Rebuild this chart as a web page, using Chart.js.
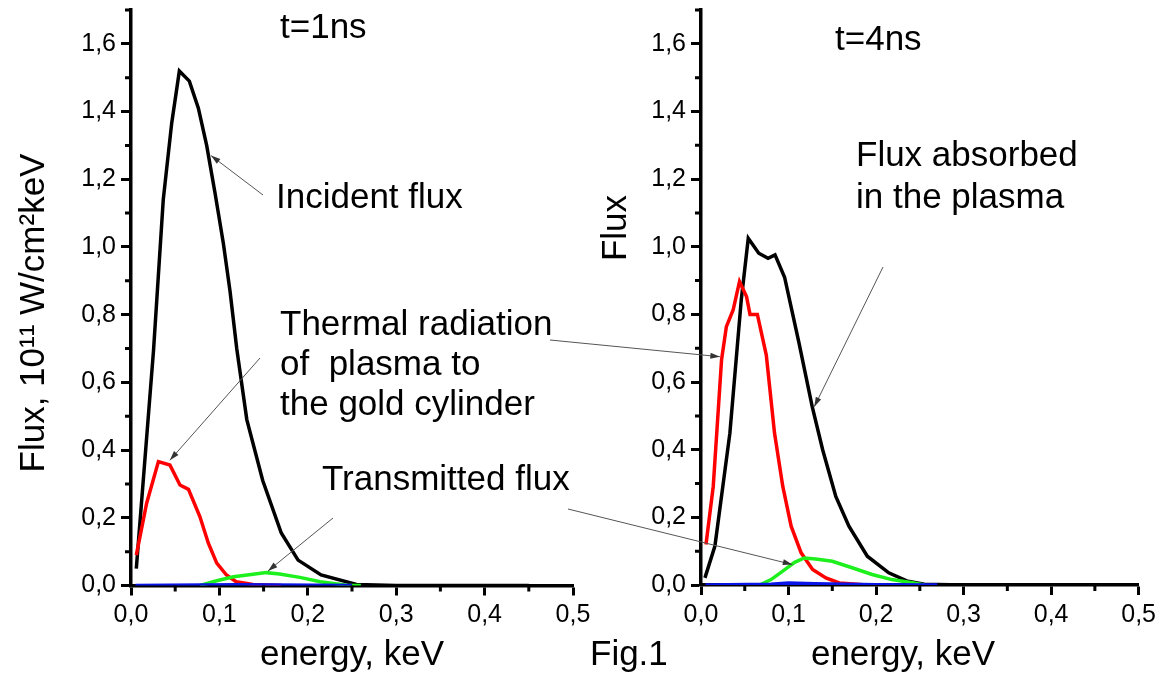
<!DOCTYPE html>
<html>
<head>
<meta charset="utf-8">
<script src="https://cdn.jsdelivr.net/npm/chart.js@4.4.1/dist/chart.umd.min.js"></script>
<style>
  body { margin: 0; background: #fff; }
  #wrap { position: relative; width: 1161px; height: 680px; }
  #wrap canvas { position: absolute; left: 0; top: 0; }
</style>
</head>
<body>
<div id="wrap">
  <canvas id="left" width="1161" height="680"></canvas>
  <canvas id="right" width="1161" height="680"></canvas>
  <canvas id="notes" width="1161" height="680"></canvas>
</div>
<script>
// t = 1 ns
const incident1E = [0.006, 0.0255, 0.0365, 0.046, 0.0547, 0.066, 0.0762, 0.0856, 0.095, 0.1045, 0.112, 0.1196, 0.131, 0.149, 0.170, 0.189, 0.215, 0.255, 0.30, 0.45];
const incident1F = [0.05, 0.695, 1.14, 1.365, 1.52, 1.49, 1.41, 1.30, 1.16, 1.01, 0.87, 0.70, 0.49, 0.31, 0.155, 0.075, 0.031, 0.003, 0.0, 0.0];
const thermal1E = [0.006, 0.0177, 0.031, 0.044, 0.0554, 0.065, 0.078, 0.0875, 0.097, 0.108, 0.119, 0.138, 0.17];
const thermal1F = [0.09, 0.243, 0.366, 0.356, 0.297, 0.284, 0.203, 0.125, 0.066, 0.031, 0.011, 0.003, 0.0];
const transmitted1E = [0.078, 0.097, 0.116, 0.138, 0.153, 0.168, 0.191, 0.214, 0.244, 0.26];
const transmitted1F = [0.0, 0.014, 0.026, 0.033, 0.038, 0.034, 0.024, 0.011, 0.001, 0.0];
const blue1E = [0.005, 0.12, 0.25];
const blue1F = [0.0, 0.002, 0.0];

// t = 4 ns
const absorbed4E = [0.0045, 0.0159, 0.033, 0.046, 0.054, 0.066, 0.0766, 0.0846, 0.0955, 0.104, 0.112, 0.127, 0.139, 0.154, 0.169, 0.19, 0.2145, 0.235, 0.255, 0.30, 0.45];
const absorbed4F = [0.021, 0.115, 0.449, 0.843, 1.025, 0.981, 0.966, 0.976, 0.91, 0.81, 0.715, 0.528, 0.40, 0.262, 0.174, 0.085, 0.036, 0.012, 0.002, 0.0, 0.0];
const thermal4E = [0.0057, 0.014, 0.0235, 0.029, 0.0367, 0.044, 0.052, 0.056, 0.0644, 0.0746, 0.084, 0.0934, 0.103, 0.1144, 0.1275, 0.1427, 0.158, 0.19];
const thermal4F = [0.12, 0.292, 0.666, 0.764, 0.813, 0.897, 0.853, 0.80, 0.80, 0.68, 0.449, 0.292, 0.174, 0.095, 0.046, 0.021, 0.006, 0.0];
const transmitted4E = [0.067, 0.080, 0.0934, 0.107, 0.118, 0.131, 0.150, 0.1726, 0.1955, 0.218, 0.243, 0.255];
const transmitted4F = [0.0, 0.016, 0.041, 0.067, 0.080, 0.077, 0.070, 0.051, 0.031, 0.016, 0.006, 0.0];
const blue4E = [0.005, 0.08, 0.1, 0.13, 0.2, 0.27];
const blue4F = [0.0, 0.002, 0.006, 0.004, 0.001, 0.0];

const energyTicks = [0, 0.1, 0.2, 0.3, 0.4, 0.5];
const energyMinor = [0.05, 0.15, 0.25, 0.35, 0.45];
const fluxTicks = [0, 0.2, 0.4, 0.6, 0.8, 1.0, 1.2, 1.4, 1.6];
const fluxMinor = [0.1, 0.3, 0.5, 0.7, 0.9, 1.1, 1.3, 1.5, 1.7];

const FONT = '"Liberation Sans", Arial, sans-serif';
const BLACK = '#000000', RED = '#ff0000', GREEN = '#1ef01e', BLUE = '#0a14e6';

const pts = (xs, ys) => xs.map((x, i) => ({x, y: ys[i]}));
const comma = v => v.toFixed(1).replace('.', ',');

// short minor ticks between the labelled ones
const minorTicks = {
    id: 'minorTicks',
    afterDraw(chart) {
        const {ctx, chartArea: a, scales: {x, y}} = chart;
        ctx.save();
        ctx.strokeStyle = '#000';
        ctx.lineWidth = 3;
        ctx.beginPath();
        energyMinor.forEach(v => {
            const px = x.getPixelForValue(v);
            ctx.moveTo(px, a.bottom);
            ctx.lineTo(px, a.bottom + 6);
        });
        fluxMinor.forEach(v => {
            const py = y.getPixelForValue(v);
            ctx.moveTo(a.left, py);
            ctx.lineTo(a.left - 6, py);
        });
        ctx.stroke();
        ctx.restore();
    }
};

const axisStyle = {
    border: {color: '#000', width: 3.5},
    grid: {drawOnChartArea: false, tickLength: 10, tickWidth: 3, tickColor: '#000'},
    ticks: {color: '#000', font: {family: FONT, size: 25}, padding: 5, maxRotation: 0, autoSkip: false, callback: v => comma(v)}
};

function makeChart(id, sets, pad, yWidth, xHeight) {
    return new Chart(document.getElementById(id), {
        type: 'line',
        data: {
            datasets: sets.map(([label, e, f, color]) => ({
                label, data: pts(e, f), borderColor: color, borderWidth: 3.5,
                pointRadius: 0, tension: 0, fill: false
            }))
        },
        options: {
            responsive: false,
            animation: false,
            layout: {padding: pad},
            plugins: {legend: {display: false}, tooltip: {enabled: false}},
            scales: {
                x: {
                    ...axisStyle, type: 'linear', min: 0, max: 0.5,
                    afterBuildTicks: s => { s.ticks = energyTicks.map(value => ({value})); },
                    afterFit: s => { s.height = xHeight; }
                },
                y: {
                    ...axisStyle, type: 'linear', min: 0, max: 1.7,
                    afterBuildTicks: s => { s.ticks = fluxTicks.map(value => ({value})); },
                    afterFit: s => { s.width = yWidth; s.paddingTop = 0; s.paddingBottom = 0; }
                }
            }
        },
        plugins: [minorTicks]
    });
}

const left = makeChart('left', [
    ['Blue curve', blue1E, blue1F, BLUE],
    ['Transmitted flux', transmitted1E, transmitted1F, GREEN],
    ['Thermal radiation', thermal1E, thermal1F, RED],
    ['Incident flux', incident1E, incident1F, BLACK]
], {left: 0, top: 10, right: 588, bottom: 0}, 131, 94.5);

const right = makeChart('right', [
    ['Blue curve', blue4E, blue4F, BLUE],
    ['Transmitted flux', transmitted4E, transmitted4F, GREEN],
    ['Thermal radiation', thermal4E, thermal4F, RED],
    ['Flux absorbed', absorbed4E, absorbed4F, BLACK]
], {left: 590, top: 10, right: 20, bottom: 0}, 111, 95);

// captions, axis titles and pointer arrows on top of both plots
const notes = document.getElementById('notes').getContext('2d');

const captions = [
    ['t=1ns', 280, 28], ['t=4ns', 835, 40],
    ['Incident flux', 276, 198],
    ['Thermal radiation', 280, 325], ['of  plasma to', 280, 365], ['the gold cylinder', 280, 405],
    ['Transmitted flux', 322, 480],
    ['Flux absorbed', 856, 156], ['in the plasma', 856, 198],
    ['Fig.1', 590, 655]
];

const arrows = [
    [263, 195, left, 0.0905, 1.27],
    [260, 358, left, 0.044, 0.37],
    [333, 518, left, 0.155, 0.043],
    [550, 340, right, 0.0216, 0.675],
    [568, 509, right, 0.1044, 0.0605],
    [883, 267, right, 0.1294, 0.527]
];

notes.fillStyle = '#000';
notes.font = '35px ' + FONT;
notes.textBaseline = 'middle';
notes.textAlign = 'left';
captions.forEach(([t, x, y]) => notes.fillText(t, x, y));

notes.textAlign = 'center';
notes.fillText('energy, keV', 352, 655);
notes.fillText('energy, keV', 903, 655);

[['Flux, 10\u00b9\u00b9 W/cm\u00b2keV', 34, 313], ['Flux', 616, 228]].forEach(([t, x, y]) => {
    notes.save();
    notes.translate(x, y);
    notes.rotate(-Math.PI / 2);
    notes.fillText(t, 0, 0);
    notes.restore();
});

notes.strokeStyle = '#555';
notes.fillStyle = '#333';
notes.lineWidth = 1;
arrows.forEach(([x0, y0, chart, ex, fy]) => {
    const x1 = chart.scales.x.getPixelForValue(ex);
    const y1 = chart.scales.y.getPixelForValue(fy);
    const ang = Math.atan2(y1 - y0, x1 - x0);
    notes.beginPath();
    notes.moveTo(x0, y0);
    notes.lineTo(x1, y1);
    notes.stroke();
    notes.beginPath();
    notes.moveTo(x1, y1);
    notes.lineTo(x1 - 10 * Math.cos(ang - 0.3), y1 - 10 * Math.sin(ang - 0.3));
    notes.lineTo(x1 - 10 * Math.cos(ang + 0.3), y1 - 10 * Math.sin(ang + 0.3));
    notes.closePath();
    notes.fill();
});
</script>
</body>
</html>
